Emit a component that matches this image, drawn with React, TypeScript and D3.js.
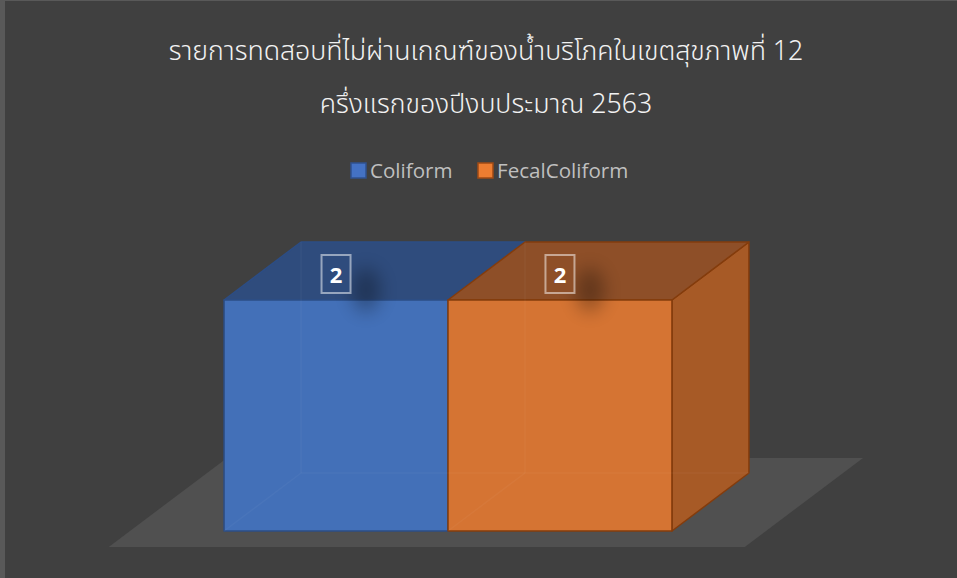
import { scaleBand, scaleLinear } from 'd3';

const W = 957;
const H = 578;

const titleLines = [
  'รายการทดสอบที่ไม่ผ่านเกณฑ์ของน้ำบริโภคในเขตสุขภาพที่ 12',
  'ครึ่งแรกของปีงบประมาณ 2563',
];
const categories = ['รายการ'];
const seriesNames = ['Coliform', 'FecalColiform'];
const seriesValues = [2, 2];
const yTicks = [0, 2];

const COLORS = [
  { front: '#4370B8', top: '#2F4C7D', side: '#35578F', edge: '#2C4D85', legend: '#4472C4', legendEdge: '#2F528F' },
  { front: '#D57433', top: '#8E4F28', side: '#A75A26', edge: '#843C0C', legend: '#ED7D31', legendEdge: '#9E4A14' },
];

// depth vector of the 3d boxes
const DX = 77;
const DY = -58;

function App() {
  const x = scaleBand<string>().domain(categories).range([130, 766]).paddingOuter(0.21).paddingInner(0);
  const xs = scaleBand<string>().domain(seriesNames).range([0, x.bandwidth()]).padding(0);
  const y = scaleLinear().domain([yTicks[0], yTicks[yTicks.length - 1]]).range([531, 300]);

  const cat = categories[0];
  const y0 = y(0);
  // floor: extends a bit in front and behind the boxes
  const fFront = 0.276;
  const fBack = 1.26;
  const fx0 = x.range()[0];
  const fx1 = x.range()[1];
  const floor = [
    [fx0 - DX * fFront, y0 - DY * fFront],
    [fx1 - DX * fFront, y0 - DY * fFront],
    [fx1 + DX * fBack, y0 + DY * fBack],
    [fx0 + DX * fBack, y0 + DY * fBack],
  ];
  const pts = (p: number[][]) => p.map(d => d.join(',')).join(' ');

  const boxes = seriesNames.map((s, i) => {
    const xl = (x(cat) ?? 0) + (xs(s) ?? 0);
    const xr = xl + xs.bandwidth();
    const yt = y(seriesValues[i]);
    return { s, i, xl, xr, yt };
  });

  return (
    <div>
      <style>{'body{margin:0;background:#404040}'}</style>
      <svg width={W} height={H} style={{ display: 'block' }}>
        <defs>
          <filter id="lblShadow" x="-100%" y="-100%" width="300%" height="300%">
            <feGaussianBlur stdDeviation="9" />
          </filter>
        </defs>
        <rect x={0} y={0} width={W} height={H} fill="#404040" />
        <rect x={0} y={0} width={5} height={H} fill="#595959" />
        <rect x={0} y={0} width={W} height={1} fill="#595959" />

        {titleLines.map((t, i) => (
          <text
            key={i}
            x={486}
            y={60 + i * 53}
            textAnchor="middle"
            fill="#f2f2f2"
            style={{ fontFamily: '"Noto Sans Thai", "Noto Sans", "DejaVu Sans", sans-serif', fontSize: 26.7, fontWeight: 300 }}
          >
            {t}
          </text>
        ))}

        {seriesNames.map((s, i) => {
          const lx = [351, 478][i];
          return (
            <g key={s}>
              <rect x={lx} y={163} width={15} height={15} fill={COLORS[i].legend} stroke={COLORS[i].legendEdge} strokeWidth={1.5} />
              <text x={lx + 19} y={177.5} fill="#bfbfbf" style={{ fontFamily: '"Open Sans", "Noto Sans", sans-serif', fontSize: 20.6 }}>
                {s}
              </text>
            </g>
          );
        })}

        <polygon points={pts(floor)} fill="#505050" />

        {boxes.map(({ s, i, xl, xr, yt }) => {
          const c = COLORS[i];
          const front = [[xl, yt], [xr, yt], [xr, y0], [xl, y0]];
          const top = [[xl, yt], [xr, yt], [xr + DX, yt + DY], [xl + DX, yt + DY]];
          const right = [[xr, yt], [xr + DX, yt + DY], [xr + DX, y0 + DY], [xr, y0]];
          return (
            <g key={s} strokeWidth={1.5} stroke={c.edge} strokeLinejoin="round">
              <polygon points={pts(right)} fill={c.side} />
              <polygon points={pts(top)} fill={c.top} />
              <polygon points={pts(front)} fill={c.front} />
            </g>
          );
        })}

        {/* faint hidden edges seen through the boxes */}
        {boxes.map(({ s, xl, xr, yt }) => (
          <g key={'h' + s} stroke="#ffffff" strokeOpacity={0.035} strokeWidth={1.5} fill="none">
            <line x1={xl} y1={y0} x2={xl + DX} y2={y0 + DY} />
            <line x1={xl + DX} y1={y0 + DY} x2={xr + DX} y2={y0 + DY} />
            <line x1={xl + DX} y1={y0 + DY} x2={xl + DX} y2={yt + DY} />
          </g>
        ))}

        {boxes.map(({ s, i, xl, xr, yt }) => {
          const cx = (xl + xr) / 2;
          const cy = yt - 26;
          return (
            <g key={'l' + s}>
              <ellipse cx={cx + 30} cy={cy + 16} rx={14} ry={22} fill="#000" opacity={0.3} filter="url(#lblShadow)" />
              <rect
                x={cx - 14.5}
                y={cy - 19}
                width={29}
                height={38}
                fill={COLORS[i].top}
                stroke="#ffffff"
                strokeOpacity={0.5}
                strokeWidth={2}
              />
              <text
                x={cx}
                y={cy + 8.5}
                textAnchor="middle"
                fill="#ffffff"
                style={{ fontFamily: '"Open Sans", "Noto Sans", sans-serif', fontSize: 22, fontWeight: 700 }}
              >
                {seriesValues[i]}
              </text>
            </g>
          );
        })}
      </svg>
    </div>
  );
}

export default App;
